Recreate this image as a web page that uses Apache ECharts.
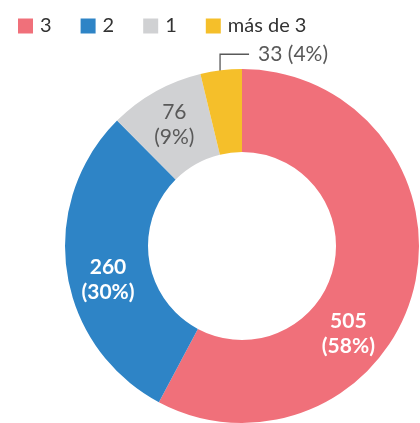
<!DOCTYPE html>
<html>
<head>
<meta charset="utf-8">
<script src="https://cdn.jsdelivr.net/npm/echarts@6/dist/echarts.min.js"></script>
<style>
    html, body { margin: 0; padding: 0; background: #fff; }
    #chart { width: 420px; height: 423px; }
</style>
</head>
<body>
<div id="chart"></div>
<script>
const categories = ['3', '2', '1', 'más de 3']
const values = [505, 260, 76, 33]
const colors = ['#F0707A', '#2E84C6', '#D0D1D3', '#F5BF2A']

const font = 'Lato'
const grey = '#595959'
const total = values.reduce((a, b) => a + b, 0)

// plain rounding, like the source (9% for 76, not the 8% that sums to 100)
const pct = p => Math.round(p.value / total * 100) + '%'

const insideBold = {
    show: true,
    position: 'inside',
    formatter: p => p.value + '\n(' + pct(p) + ')',
    color: '#fff',
    fontWeight: 'bold',
    fontSize: 21,
    lineHeight: 25,
    fontFamily: font,
}
const insideGrey = {
    show: true,
    position: 'inside',
    formatter: p => p.value + '\n(' + pct(p) + ')',
    color: grey,
    fontSize: 21,
    lineHeight: 25,
    fontFamily: font,
}
const outside = {
    show: true,
    position: 'outside',
    formatter: p => p.value + ' (' + pct(p) + ')',
    color: grey,
    fontSize: 21,
    fontFamily: font,
}
const labels = [insideBold, insideBold, insideGrey, outside]

const data = categories.map((name, i) => ({
    name: name,
    value: values[i],
    itemStyle: { color: colors[i] },
    label: labels[i],
    labelLine: { show: i === 3, lineStyle: { color: grey, width: 1.3 } },
}))

const chart = echarts.init(document.getElementById('chart'), null, { renderer: 'canvas' })
chart.setOption({
    animation: false,
    legend: {
        left: 13,
        top: 11,
        icon: 'rect',
        itemWidth: 15,
        itemHeight: 15,
        itemGap: 29,
        textStyle: {
            fontFamily: font,
            fontSize: 20,
            color: '#333',
            padding: [0, 0, 0, 2],
        },
        data: categories,
    },
    series: [
        {
            type: 'pie',
            center: [242, 246],
            radius: [94, 177],
            startAngle: 90,
            clockwise: true,
            avoidLabelOverlap: false,
            itemStyle: { borderWidth: 0 },
            emphasis: { disabled: true },
            data: data,
            labelLayout: function (params) {
                if (params.dataIndex === 0) {
                    return { dx: -28, dy: 54 }
                }
                if (params.dataIndex === 1) {
                    return { dx: 3, dy: 13 }
                }
                if (params.dataIndex === 3 && params.labelLinePoints) {
                    const p = params.labelLinePoints[0]
                    const y = p[1] - 16
                    return {
                        x: p[0] + 37,
                        y: y,
                        align: 'left',
                        verticalAlign: 'middle',
                        labelLinePoints: [[p[0] - 1, p[1] + 5], [p[0] - 1, y], [p[0] + 28, y]],
                    }
                }
            },
        },
    ],
})
</script>
</body>
</html>
